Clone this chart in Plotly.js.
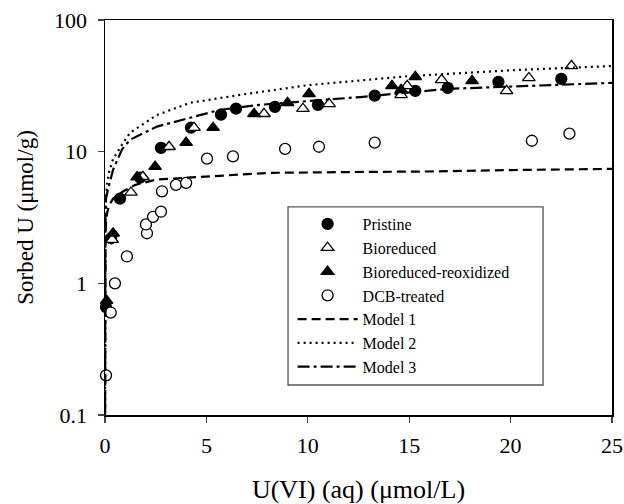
<!DOCTYPE html>
<html><head><meta charset="utf-8">
<script src="https://cdn.plot.ly/plotly-3.0.1.min.js"></script>
<style>html,body{margin:0;padding:0;background:#fff}#chart{width:624px;height:504px}</style>
</head><body><div id="chart"></div>
<script>
// Data
const pristineX = [0.05, 0.3, 0.74, 1.73, 2.76, 4.24, 5.72, 6.46, 8.38, 10.5, 13.3, 15.3, 16.9, 19.4, 22.5];
const pristineY = [0.66, 2.2, 4.4, 6.35, 10.7, 15.2, 19.1, 21.2, 21.9, 22.7, 26.6, 29.0, 30.5, 33.9, 35.7];

const bioredX = [0.35, 1.28, 1.87, 3.16, 4.39, 7.84, 9.76, 11.05, 14.6, 14.9, 16.6, 19.8, 20.9, 23.0];
const bioredY = [2.15, 4.9, 6.45, 10.9, 15.2, 19.4, 21.2, 23.1, 27.0, 31.6, 35.1, 29.0, 36.3, 44.8];

const reoxX = [0.08, 0.4, 1.58, 2.47, 4.0, 5.33, 7.35, 9.0, 10.06, 14.15, 14.6, 15.3, 18.1];
const reoxY = [0.74, 2.4, 6.4, 7.7, 11.7, 15.2, 19.4, 23.5, 27.5, 31.6, 29.5, 37.0, 34.5];

const dcbX = [0.05, 0.28, 0.49, 1.08, 2.07, 2.02, 2.37, 2.76, 2.81, 3.5, 4.0, 5.03, 6.31, 8.88, 10.55, 13.3, 21.05, 22.9];
const dcbY = [0.2, 0.6, 1.0, 1.6, 2.4, 2.8, 3.2, 3.5, 5.0, 5.6, 5.8, 8.85, 9.2, 10.5, 10.9, 11.7, 12.1, 13.7];

const model1X = [0.0, 0.005, 0.02, 0.05, 0.1, 0.2, 0.4, 0.9, 1.5, 2.56, 5.0, 8.1, 12.0, 15.9, 20.0, 25.0];
const model1Y = [0.05, 0.8, 2.0, 2.9, 3.4, 3.9, 4.4, 5.0, 5.6, 6.15, 6.45, 6.9, 7.0, 7.07, 7.25, 7.4];

const model2X = [0.0, 0.005, 0.02, 0.05, 0.1, 0.2, 0.4, 0.84, 1.23, 2.56, 4.2, 6.66, 10.0, 15.0, 20.0, 25.0];
const model2Y = [0.05, 1.0, 3.0, 4.6, 5.6, 7.0, 8.8, 11.3, 13.9, 19.0, 23.5, 27.0, 32.0, 37.5, 41.5, 44.7];

const model3X = [0.0, 0.005, 0.02, 0.05, 0.1, 0.15, 0.4, 0.84, 1.23, 2.56, 4.2, 5.67, 7.64, 12.6, 16.9, 25.0];
const model3Y = [0.05, 1.0, 3.0, 4.4, 5.0, 5.2, 7.3, 10.4, 12.3, 15.5, 18.1, 20.8, 22.7, 26.0, 30.0, 33.3];

const xTicks = [0, 5, 10, 15, 20, 25];
const yTicks = [0.1, 1, 10, 100];
const yTickText = ['0.1', '1', '10', '100'];

const FONT = 'Liberation Serif, Times New Roman, serif';

const mk = (sym, open) => ({
  symbol: sym, size: 11, color: open ? '#ffffff' : '#000000',
  line: {color: '#000000', width: 1.3}
});

const traces = [
  {x: pristineX, y: pristineY, name: 'Pristine', mode: 'markers', type: 'scatter', marker: mk('circle', false), cliponaxis: false},
  {x: bioredX, y: bioredY, name: 'Bioreduced', mode: 'markers', type: 'scatter', marker: mk('triangle-up', true), cliponaxis: false},
  {x: reoxX, y: reoxY, name: 'Bioreduced-reoxidized', mode: 'markers', type: 'scatter', marker: mk('triangle-up', false), cliponaxis: false},
  {x: dcbX, y: dcbY, name: 'DCB-treated', mode: 'markers', type: 'scatter', marker: mk('circle', true), cliponaxis: false},
  {x: model1X, y: model1Y, name: 'Model 1', mode: 'lines', type: 'scatter', line: {color: '#000', width: 2.2, dash: '9px,5px'}},
  {x: model2X, y: model2Y, name: 'Model 2', mode: 'lines', type: 'scatter', line: {color: '#000', width: 2.2, dash: '2px,4px'}},
  {x: model3X, y: model3Y, name: 'Model 3', mode: 'lines', type: 'scatter', line: {color: '#000', width: 2.2, dash: '12px,4px,3px,4px'}}
];

const layout = {
  width: 624, height: 504,
  margin: {l: 105, r: 12, t: 20, b: 89},
  paper_bgcolor: '#fff', plot_bgcolor: '#fff',
  font: {family: FONT, color: '#000', size: 22},
  showlegend: true,
  legend: {
    x: 0.370, y: 0.5266, xanchor: 'left', yanchor: 'top',
    bgcolor: 'rgba(0,0,0,0)', borderwidth: 0,
    font: {family: FONT, size: 16, color: '#000'},
    itemwidth: 60,
    tracegroupgap: 0
  },
  shapes: [{type: 'rect', xref: 'paper', yref: 'paper', x0: 0.361, x1: 0.864, y0: 0.076, y1: 0.527,
            line: {color: '#555', width: 1.3}, fillcolor: 'rgba(0,0,0,0)', layer: 'below'}],
  xaxis: {
    range: [0, 25], tickvals: xTicks, ticks: 'outside', ticklen: 6, tickwidth: 1.3,
    showline: true, linecolor: '#000', linewidth: 1.5, mirror: true, showgrid: false, zeroline: false,
    tickfont: {family: FONT, size: 22}, ticklabelstandoff: 4,
    title: {text: 'U(VI) (aq) (μmol/L)', font: {family: FONT, size: 26}, standoff: 24}
  },
  yaxis: {
    type: 'log', range: [-1, 2], tickvals: yTicks, ticktext: yTickText, ticks: 'outside', ticklen: 6, tickwidth: 1.3,
    showline: true, linecolor: '#000', linewidth: 1.5, mirror: true, showgrid: false, zeroline: false,
    tickfont: {family: FONT, size: 22}, ticklabelstandoff: 6,
    title: {text: 'Sorbed U (μmol/g)', font: {family: FONT, size: 23}, standoff: 14}
  }
};

Plotly.newPlot('chart', traces, layout, {displayModeBar: false, staticPlot: true});
</script></body></html>
